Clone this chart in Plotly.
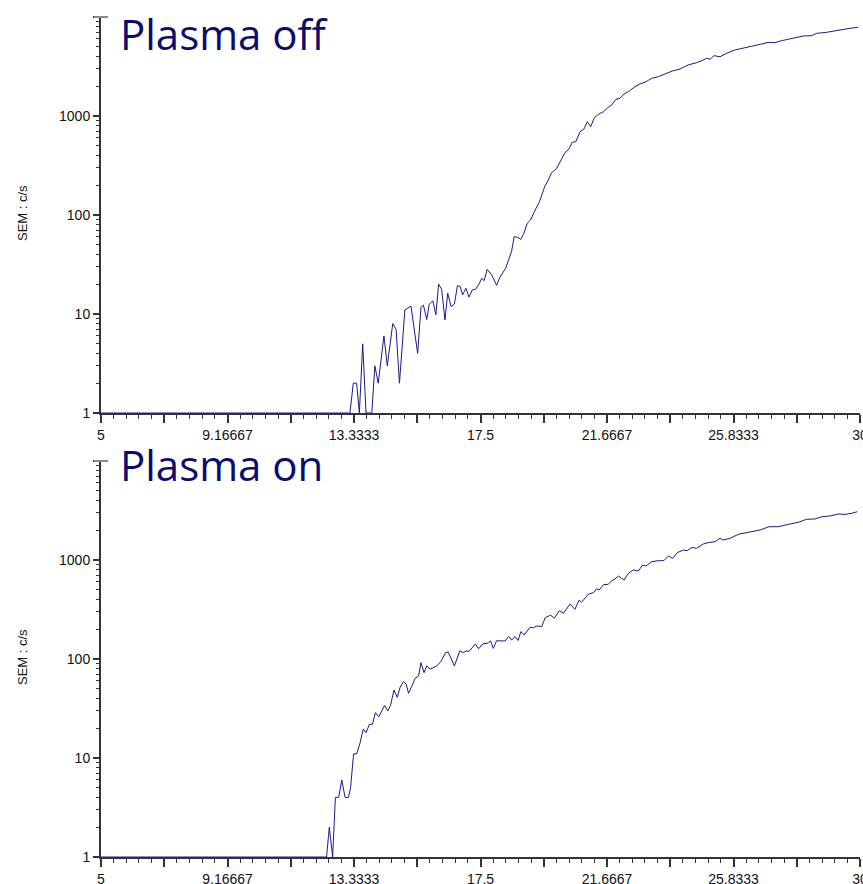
import plotly.graph_objects as go
from plotly.subplots import make_subplots

# ---------------- data ----------------
off_x = [5.0, 13.2, 13.31, 13.42, 13.51, 13.62, 13.73, 13.92, 14.02, 14.13, 14.32, 14.43, 14.61, 14.72, 14.83,
         15.01, 15.21, 15.43, 15.54, 15.62, 15.73, 15.81, 15.93, 16.03, 16.12, 16.22, 16.33, 16.42, 16.53, 16.64,
         16.74, 16.83, 16.91, 17.02, 17.12, 17.23, 17.34, 17.45, 17.54, 17.62, 17.72, 17.87, 18.03, 18.14, 18.33,
         18.44, 18.52, 18.61, 18.72, 18.83, 18.93, 19.04, 19.15, 19.26, 19.35, 19.44, 19.54, 19.62, 19.72, 19.84,
         20.01, 20.14, 20.28, 20.41, 20.52, 20.64, 20.78, 20.91, 21.02, 21.13, 21.24, 21.38, 21.55, 21.71, 21.82,
         21.96, 22.09, 22.23, 22.37, 22.59, 22.75, 22.95, 23.14, 23.36, 23.63, 23.85, 23.96, 24.07, 24.34, 24.62,
         24.84, 24.95, 25.06, 25.19, 25.39, 25.61, 25.88, 26.16, 26.49, 26.76, 26.98, 27.2, 27.42, 27.64, 27.86,
         28.13, 28.41, 28.57, 28.9, 29.12, 29.4, 29.67, 29.94]
off_y = [1, 1, 2, 2, 1, 5, 1, 1, 3, 2, 6, 3, 8, 7, 2,
         11, 12, 4, 11.7, 12.3, 8.8, 12.5, 13.6, 9.8, 20, 17.8, 8.7, 16.2, 11.9, 12.6,
         19.3, 19, 15.6, 18.2, 14.8, 17.5, 17.8, 20, 22.9, 21.7, 28.3, 24.8, 19.5, 23.5, 29,
         37.4, 42.6, 60.4, 59.5, 56.8, 65.4, 82.4, 89, 106, 121, 136, 166, 196, 222, 267,
         296, 359, 426, 461, 542, 550, 695, 739, 877, 780, 947, 1040, 1106, 1225, 1292,
         1474, 1508, 1667, 1760, 1977, 2104, 2221, 2403, 2497, 2700, 2870, 2915, 2985, 3275, 3458,
         3680, 3830, 3740, 4065, 3970, 4300, 4645, 4830, 5095, 5335, 5545, 5500, 5765, 5955, 6240,
         6430, 6475, 6840, 7000, 7225, 7515, 7690, 7870]

on_x = [5.0, 12.43, 12.52, 12.63, 12.72, 12.83, 12.93, 13.04, 13.15, 13.22, 13.32, 13.42, 13.53, 13.64, 13.73,
        13.84, 13.94, 14.04, 14.15, 14.34, 14.45, 14.54, 14.65, 14.76, 14.85, 14.96, 15.05, 15.13, 15.24, 15.35,
        15.46, 15.54, 15.64, 15.73, 15.84, 15.95, 16.06, 16.19, 16.36, 16.44, 16.64, 16.82, 16.93, 17.02, 17.13,
        17.33, 17.44, 17.57, 17.68, 17.76, 17.83, 17.92, 18.03, 18.31, 18.43, 18.53, 18.64, 18.74, 18.83, 18.94,
        19.13, 19.24, 19.35, 19.52, 19.63, 19.81, 19.93, 20.1, 20.23, 20.45, 20.61, 20.75, 20.83, 21.05, 21.22,
        21.33, 21.41, 21.55, 21.71, 21.82, 21.93, 22.04, 22.23, 22.37, 22.53, 22.7, 22.84, 22.95, 23.14, 23.36,
        23.54, 23.69, 23.83, 23.98, 24.18, 24.31, 24.46, 24.62, 24.84, 25.0, 25.22, 25.39, 25.48, 25.72, 26.0,
        26.27, 26.49, 26.71, 27.01, 27.31, 27.59, 27.8, 27.97, 28.24, 28.52, 28.74, 29.01, 29.29, 29.51, 29.73,
        29.91]
on_y = [1, 1, 2, 1, 4, 4, 6, 4, 4, 5, 11, 11, 14.1, 19.6, 18,
        21.9, 21.9, 28.7, 26.1, 33.8, 30, 34.3, 48.6, 41, 51.8, 59, 55.9, 45, 53.4, 63.9,
        67.3, 91.8, 72.8, 85, 79, 82, 85, 94, 117, 117, 85, 121, 116, 120, 120,
        142, 127, 142, 145, 145, 153, 128, 153, 152, 169, 156, 168, 154, 189, 175,
        209, 207, 215, 213, 261, 278, 258, 308, 289, 359, 318, 394, 374, 451, 468,
        513, 498, 563, 568, 618, 643, 689, 628, 734, 793, 774, 890, 869, 961, 985,
        985, 1097, 1040, 1185, 1262, 1242, 1343, 1312, 1452, 1496, 1531, 1656, 1592, 1656, 1820,
        1888, 1932, 2010, 2170, 2170, 2274, 2350, 2404, 2578, 2597, 2736, 2782, 2916, 2887, 2965,
        3077]

assert len(off_x) == len(off_y), (len(off_x), len(off_y))
assert len(on_x) == len(on_y), (len(on_x), len(on_y))

titles = ["Plasma off", "Plasma on"]
y_label = "SEM : c/s"
x_tick_labels = ["5", "", "9.16667", "", "13.3333", "", "17.5", "", "21.6667", "", "25.8333", "", "30"]
y_tick_vals = [1, 10, 100, 1000, 10000]
y_tick_labels = ["1", "10", "100", "1000", ""]

# ---------------- figure ----------------
W, H = 863, 884
ML, MR = 101, 3
LINE = "#1a1a8a"
AX = "#333333"
TICKFONT = dict(family="Liberation Sans, Arial", size=14, color="#111111")

fig = make_subplots(rows=2, cols=1, shared_xaxes=False, vertical_spacing=0.05)

fig.add_trace(go.Scatter(x=off_x, y=off_y, mode="lines", line=dict(color=LINE, width=1), showlegend=False), row=1, col=1)
fig.add_trace(go.Scatter(x=on_x, y=on_y, mode="lines", line=dict(color=LINE, width=1), showlegend=False), row=2, col=1)

x_tick_vals = [5 + i * 25 / 12 for i in range(len(x_tick_labels))]
minor_y = [m * 10 ** d for d in range(4) for m in range(2, 10)]

# pixel-based domains (top/bottom of plot areas)
panel_px = [(17, 413), (461, 857)]
doms = [[1 - b / H, 1 - t / H] for t, b in panel_px]

for i, dom in ((1, doms[0]), (2, doms[1])):
    xa = "xaxis" if i == 1 else "xaxis2"
    ya = "yaxis" if i == 1 else "yaxis2"
    fig.layout[xa].update(
        range=[5, 30], domain=[0, 1], showline=True, linecolor=AX, linewidth=1.5,
        ticks="outside", ticklen=8, tickwidth=1.5, tickcolor=AX,
        tickmode="array", tickvals=x_tick_vals, ticktext=x_tick_labels,
        tickfont=TICKFONT, showgrid=False, zeroline=False, automargin=False,
        ticklabeloverflow="allow",
        minor=dict(ticks="outside", ticklen=4, tickwidth=1, tickcolor=AX, dtick=25 / 60, tick0=5, showgrid=False),
    )
    fig.layout[ya].update(
        type="log", range=[0, 4], domain=dom, showline=True, linecolor=AX, linewidth=2,
        ticks="outside", ticklen=6, tickwidth=1.5, tickcolor=AX,
        tickmode="array", tickvals=y_tick_vals, ticktext=y_tick_labels,
        tickfont=TICKFONT, showgrid=False, zeroline=False, automargin=False,
        minor=dict(ticks="outside", ticklen=3, tickwidth=1, tickcolor=AX, tickmode="array", tickvals=minor_y, showgrid=False),
    )
    # y-axis title, placed in pixel terms
    t, b = panel_px[i - 1]
    fig.add_annotation(
        text=y_label, xref="paper", yref="paper",
        x=(22 - ML) / (W - ML - MR), y=1 - ((t + b) / 2 - 2) / H,
        xanchor="center", yanchor="middle", textangle=-90, showarrow=False,
        font=dict(family="Liberation Sans, Arial", size=13, color="#111111"),
    )
    # gray cap at top of y axis
    fig.add_shape(
        type="line", xref="paper", yref="paper",
        x0=(94 - ML) / (W - ML - MR), x1=(108 - ML) / (W - ML - MR),
        y0=1 - t / H, y1=1 - t / H, line=dict(color="#8a8a8a", width=2),
    )

title_pos = [34, 464]
for t, yp in zip(titles, title_pos):
    fig.add_annotation(
        text=t, xref="paper", yref="paper", x=(118 - ML) / (W - ML - MR), y=1 - yp / H,
        xanchor="left", yanchor="middle", showarrow=False,
        font=dict(family="Open Sans, Noto Sans", size=42, color="#0c0c6e"),
    )

fig.update_layout(
    width=W, height=H, margin=dict(l=ML, r=MR, t=0, b=0, autoexpand=False),
    paper_bgcolor="white", plot_bgcolor="white",
)

fig.write_html("out.html")
